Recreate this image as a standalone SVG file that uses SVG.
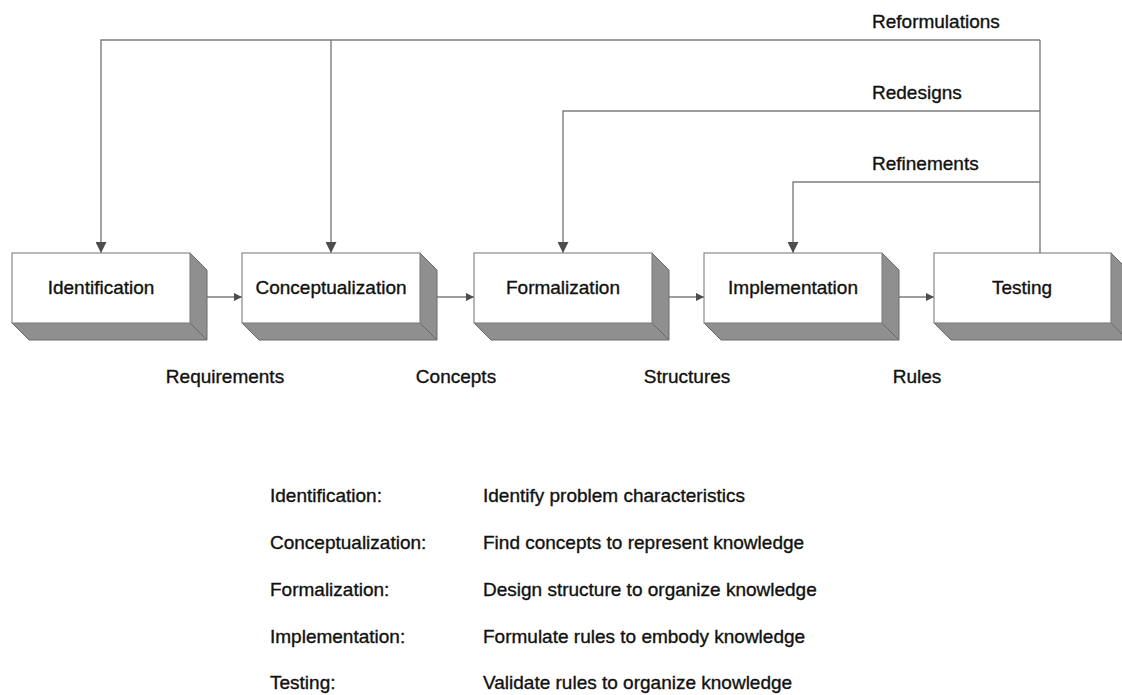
<svg xmlns="http://www.w3.org/2000/svg" width="1122" height="695" viewBox="0 0 1122 695">
  <style>
    text { font-family: "Liberation Sans", Arial, sans-serif; font-size: 19px; fill: #111111; stroke: #111111; stroke-width: 0.35; }
    .mid { text-anchor: middle; }
    .front { fill: #ffffff; stroke: #8a8a8a; stroke-width: 1.2; }
    .face { fill: #8f8f8f; stroke: #6a6a6a; stroke-width: 1; stroke-linejoin: round; }
    .link { fill: none; stroke: #7d7d7d; stroke-width: 1.4; }
  </style>
  <defs>
    <marker id="headV" viewBox="0 0 10 10" refX="10" refY="5" markerWidth="11" markerHeight="11" markerUnits="userSpaceOnUse" orient="auto">
      <path d="M0,0 L10,5 L0,10 z" fill="#4d4d4d"/>
    </marker>
    <marker id="headH" viewBox="0 0 10 10" refX="10" refY="5" markerWidth="8" markerHeight="8" markerUnits="userSpaceOnUse" orient="auto">
      <path d="M0,0 L10,5 L0,10 z" fill="#4d4d4d"/>
    </marker>
  </defs>

  <rect width="1122" height="695" fill="#ffffff"/>

  <!-- feedback loops and forward flow -->
  <g id="connectors">
    <!-- trunk rising from Testing -->
    <path class="link" d="M1040,253 V40"/>
    <!-- Reformulations -->
    <path class="link" d="M1040,40 H101 V253" marker-end="url(#headV)"/>
    <path class="link" d="M331,40 V253" marker-end="url(#headV)"/>
    <!-- Redesigns -->
    <path class="link" d="M1040,111 H563 V253" marker-end="url(#headV)"/>
    <!-- Refinements -->
    <path class="link" d="M1040,182 H793 V253" marker-end="url(#headV)"/>
    <!-- forward arrows between stages -->
    <path class="link" d="M207,297 H242" marker-end="url(#headH)"/>
    <path class="link" d="M437,297 H474" marker-end="url(#headH)"/>
    <path class="link" d="M669,297 H704" marker-end="url(#headH)"/>
    <path class="link" d="M899,297 H934" marker-end="url(#headH)"/>
  </g>

  <!-- loop labels -->
  <g id="loop-labels">
    <text x="872" y="28">Reformulations</text>
    <text x="872" y="99">Redesigns</text>
    <text x="872" y="170">Refinements</text>
  </g>

  <!-- stage boxes: front face plus shaded side and bottom -->
  <g id="identification">
    <polygon class="face" points="190,253 207,270 207,340 190,323"/>
    <polygon class="face" points="12,323 190,323 207,340 29,340"/>
    <rect class="front" x="12" y="253" width="178" height="70"/>
    <text class="mid" x="101" y="294">Identification</text>
  </g>
  <g id="conceptualization">
    <polygon class="face" points="420,253 437,270 437,340 420,323"/>
    <polygon class="face" points="242,323 420,323 437,340 259,340"/>
    <rect class="front" x="242" y="253" width="178" height="70"/>
    <text class="mid" x="331" y="294">Conceptualization</text>
  </g>
  <g id="formalization">
    <polygon class="face" points="652,253 669,270 669,340 652,323"/>
    <polygon class="face" points="474,323 652,323 669,340 491,340"/>
    <rect class="front" x="474" y="253" width="178" height="70"/>
    <text class="mid" x="563" y="294">Formalization</text>
  </g>
  <g id="implementation">
    <polygon class="face" points="882,253 899,270 899,340 882,323"/>
    <polygon class="face" points="704,323 882,323 899,340 721,340"/>
    <rect class="front" x="704" y="253" width="178" height="70"/>
    <text class="mid" x="793" y="294">Implementation</text>
  </g>
  <g id="testing">
    <polygon class="face" points="1111,253 1128,270 1128,340 1111,323"/>
    <polygon class="face" points="934,323 1111,323 1128,340 951,340"/>
    <rect class="front" x="934" y="253" width="177" height="70"/>
    <text class="mid" x="1022" y="294">Testing</text>
  </g>

  <!-- products passed between stages -->
  <g id="products">
    <text class="mid" x="225" y="383">Requirements</text>
    <text class="mid" x="456" y="383">Concepts</text>
    <text class="mid" x="687" y="383">Structures</text>
    <text class="mid" x="917" y="383">Rules</text>
  </g>

  <!-- legend -->
  <g id="legend">
    <text x="270" y="502">Identification:</text>
    <text x="483" y="502">Identify problem characteristics</text>
    <text x="270" y="549">Conceptualization:</text>
    <text x="483" y="549">Find concepts to represent knowledge</text>
    <text x="270" y="596">Formalization:</text>
    <text x="483" y="596">Design structure to organize knowledge</text>
    <text x="270" y="643">Implementation:</text>
    <text x="483" y="643">Formulate rules to embody knowledge</text>
    <text x="270" y="689">Testing:</text>
    <text x="483" y="689">Validate rules to organize knowledge</text>
  </g>
</svg>
